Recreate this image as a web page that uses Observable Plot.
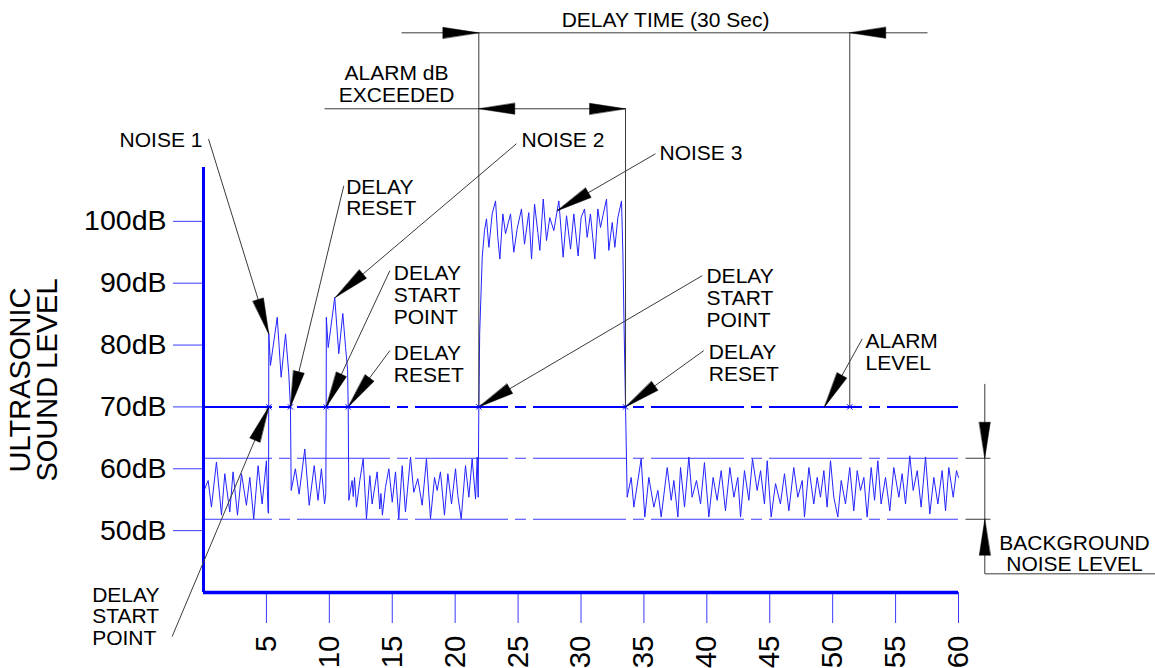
<!DOCTYPE html>
<html><head><meta charset="utf-8">
<script src="https://cdn.jsdelivr.net/npm/d3@7"></script>
<script src="https://cdn.jsdelivr.net/npm/@observablehq/plot@0.6"></script>
<style>html,body{margin:0;padding:0;background:#fff;overflow:hidden}</style>
</head><body><div id="chart"></div>
<script>
// ---------- data (time in seconds, level in dB) ----------
const xTicks = [5, 10, 15, 20, 25, 30, 35, 40, 45, 50, 55, 60];
const xTickLabels = ["5","10","15","20","25","30","35","40","45","50","55","60"];
const yTicks = [50, 60, 70, 80, 90, 100];
const yTickLabels = ["50dB","60dB","70dB","80dB","90dB","100dB"];
const yTitle = "ULTRASONIC\nSOUND LEVEL";

const alarmLevel = 70;
const backgroundBand = [61.7, 51.84];
const alarmPoints = [5.19, 6.91, 9.75, 11.50, 21.88, 33.54, 51.36];

const noiseA = [[0.05,56.5],[0.37,58.1],[0.63,53.8],[1.03,61.1],[1.43,52.5],[1.69,59.2],[2.09,53.0],[2.35,59.5],[2.70,52.5],[3.02,59.2],[3.41,54.1],[3.68,58.6],[3.99,51.9],[4.34,60.5],[4.66,54.3],[5.00,61.3],[5.13,53.0],[5.17,52.8]];
const noise1 = [[5.19,81.8],[5.32,76.7],[5.86,84.5],[6.17,74.8],[6.52,81.8],[6.78,75.3],[6.91,70.0],[6.97,56.5]];
const noiseB = [[7.30,60.0],[7.60,55.9],[8.05,63.2],[8.40,54.1],[8.80,60.5],[9.10,54.9],[9.37,60.0],[9.62,54.3],[9.72,56.0]];
const noise2 = [[9.75,70.0],[9.76,84.5],[9.91,79.6],[10.43,87.7],[10.75,78.6],[11.07,85.1],[11.29,79.6],[11.45,76.0],[11.50,70.0],[11.55,54.9]];
const noiseC = [[11.81,58.1],[11.90,55.5],[12.00,58.6],[12.16,53.8],[12.42,58.1],[12.69,61.6],[12.95,51.9],[13.22,58.9],[13.40,54.3],[13.80,59.5],[14.01,53.5],[14.10,56.0],[14.22,52.5],[14.46,57.0],[14.73,60.0],[15.00,54.6],[15.26,59.5],[15.52,51.9],[15.79,60.5],[16.05,53.0],[16.45,61.9],[16.71,56.2],[17.03,58.4],[17.38,54.1],[17.72,61.6],[18.04,51.9],[18.36,58.6],[18.57,56.5],[18.83,59.5],[19.15,52.5],[19.42,59.2],[19.71,54.3],[20.03,60.0],[20.21,55.7],[20.48,51.9],[20.82,60.5],[21.09,55.4],[21.35,61.6],[21.62,55.1],[21.75,61.9],[21.83,55.4]];
const noise3 = [[21.88,70.0],[21.95,82.0],[22.15,94.2],[22.33,98.5],[22.49,100.4],[22.68,95.8],[22.94,101.2],[23.21,103.3],[23.39,97.4],[23.55,93.9],[23.79,101.2],[24.00,98.0],[24.40,101.2],[24.66,95.0],[24.93,98.8],[25.27,102.0],[25.51,96.3],[25.85,101.4],[26.07,93.9],[26.31,102.8],[26.57,98.2],[26.73,95.3],[27.00,103.6],[27.26,96.9],[27.52,100.6],[27.84,98.5],[28.24,103.3],[28.58,94.2],[28.85,100.9],[29.17,95.5],[29.43,101.2],[29.77,94.4],[30.01,100.6],[30.28,102.0],[30.49,97.4],[30.75,101.2],[31.10,93.9],[31.34,102.0],[31.55,99.0],[31.74,100.9],[32.03,103.6],[32.21,95.3],[32.48,99.8],[32.69,95.8],[32.93,100.6],[33.22,103.3],[33.33,94.7],[33.41,84.5],[33.54,70.0]];
const noiseD = [[33.67,55.4],[33.99,58.6],[34.20,53.8],[34.78,61.6],[35.07,52.2],[35.39,58.6],[35.79,53.8],[36.11,56.5],[36.37,52.2],[36.85,60.2],[37.17,54.9],[37.38,58.1],[37.70,52.2],[37.91,60.2],[38.23,53.8],[38.57,61.9],[38.83,55.4],[39.18,58.1],[39.50,54.3],[39.81,61.0],[40.16,52.2],[40.50,58.6],[40.82,54.9],[41.14,59.7],[41.48,53.2],[41.83,60.2],[42.15,55.4],[42.46,58.6],[42.68,52.2],[42.99,59.7],[43.34,54.9],[43.63,61.6],[44.00,56.5],[44.27,59.7],[44.58,54.3],[44.80,61.3],[45.11,52.2],[45.46,57.6],[45.85,54.3],[46.17,59.2],[46.52,53.2],[46.91,60.2],[47.23,55.4],[47.58,58.1],[47.76,52.2],[48.11,60.2],[48.50,54.3],[48.77,58.6],[49.03,55.4],[49.30,59.7],[49.56,53.8],[49.83,61.3],[50.09,55.4],[50.41,52.2],[50.68,58.1],[51.02,54.3],[51.36,60.2],[51.68,53.2],[51.95,59.7],[52.21,56.5],[52.48,58.6],[52.74,52.2],[53.06,60.2],[53.33,54.9],[53.59,61.3],[53.85,54.3],[54.20,58.6],[54.54,53.2],[54.86,60.2],[55.26,55.4],[55.52,59.2],[55.79,54.3],[56.13,62.1],[56.40,56.5],[56.72,59.7],[57.03,53.8],[57.38,61.9],[57.72,52.7],[58.04,58.6],[58.36,54.3],[58.70,59.7],[58.97,53.2],[59.23,60.2],[59.58,55.4],[59.84,59.7],[60.00,58.6]];
const signal = [...noiseA, ...noise1, ...noiseB, ...noise2, ...noiseC, ...noise3, ...noiseD];

// leader lines: [from t, from dB, tip t, tip dB]
const leaders = [
  [0.40, 113.3, 5.19, 81.8],
  [11.15, 105.75, 6.91, 70],
  [24.87, 112.54, 10.49, 87.71],
  [14.81, 92.02, 9.75, 70],
  [14.81, 79.10, 11.50, 70],
  [-2.49, 32.89, 5.19, 70],
  [35.92, 110.92, 28.11, 101.71],
  [39.63, 91.21, 21.88, 70],
  [39.76, 79.10, 33.54, 70],
  [52.35, 80.99, 49.35, 70]
];
// dimension / extension lines
const dimLines = [
  [15.74, 130.47, 57.54, 130.47],
  [21.88, 130.47, 21.88, 70],
  [51.36, 130.47, 51.36, 70],
  [9.62, 118.19, 33.54, 118.19],
  [33.54, 118.19, 33.54, 70],
  [62.09, 73.72, 62.09, 43.02],
  [62.09, 43.02, 75.7, 43.02],
  [60.56, 61.70, 62.54, 61.70],
  [60.56, 51.84, 62.54, 51.84]
];
const dimArrows = [
  [15.0, 130.47, 21.88, 130.47],
  [58.0, 130.47, 51.36, 130.47],
  [30.0, 118.19, 21.88, 118.19],
  [10.0, 118.19, 33.54, 118.19],
  [62.09, 75, 62.09, 61.70],
  [62.09, 40, 62.09, 51.84]
];
// labels: [text, t, dB]
const labelsStart = [
  ["DELAY\nRESET", 11.34, 103.86],
  ["NOISE 2", 25.27, 113.18],
  ["DELAY\nSTART\nPOINT", 15.12, 88.11],
  ["DELAY\nRESET", 15.12, 76.95],
  ["NOISE 3", 36.24, 111.08],
  ["DELAY\nSTART\nPOINT", 39.97, 87.59],
  ["DELAY\nRESET", 40.16, 77.08],
  ["ALARM\nLEVEL", 52.61, 78.82],
  ["DELAY\nSTART\nPOINT", -8.85, 36.16]
];
const labelsEnd = [["NOISE 1", -0.08, 113.07]];
const labelsMiddle = [
  ["BACKGROUND\nNOISE LEVEL", 69.22, 46.32],
  ["DELAY TIME (30 Sec)", 36.72, 132.57],
  ["ALARM dB\nEXCEEDED", 15.34, 122.2]
];

// ---------- layout ----------
const W = 1155, H = 668, ML = 203, MR = 197, MT = 167, MB = 76;
const xDomain = [0, 60], yDomain = [40, 108.7];
const kx = (W - ML - MR) / (xDomain[1] - xDomain[0]);
const ky = (H - MT - MB) / (yDomain[1] - yDomain[0]);
const angle = (a) => Math.atan2((a[2] - a[0]) * kx, (a[3] - a[1]) * ky) * 180 / Math.PI;
const arrowHead = {draw(ctx, l) { const w = 5.5; ctx.moveTo(0, -l); ctx.lineTo(-w, 0); ctx.lineTo(w, 0); ctx.closePath(); }};
const BLUE = "#0000ff", THIN = "#3a3aff", INK = "#3a3a3a";
const font = "'Liberation Sans', Arial, Helvetica, sans-serif";
const dash = "93,7,11,7";

const txt = (arr, anchor) => Plot.text(arr, {x: d => d[1], y: d => d[2], text: d => d[0], textAnchor: anchor, lineAnchor: "middle", lineHeight: 1.033, fontSize: 21, fill: "black"});

const chart = Plot.plot({
  width: W, height: H,
  marginLeft: ML, marginRight: MR, marginTop: MT, marginBottom: MB,
  style: {fontFamily: font, background: "white", color: "black"},
  x: {domain: xDomain},
  y: {domain: yDomain},
  marks: [
    Plot.ruleY(backgroundBand, {stroke: THIN, strokeWidth: 1, strokeDasharray: dash, strokeDashoffset: 24}),
    Plot.ruleY([alarmLevel], {stroke: BLUE, strokeWidth: 2, strokeDasharray: dash, strokeDashoffset: 24}),
    Plot.line(signal, {x: d => d[0], y: d => d[1], stroke: "#2323ff", strokeWidth: 1}),
    Plot.axisY({ticks: yTicks, tickSize: 30, tickPadding: 7, tickFormat: d => yTickLabels[yTicks.indexOf(d)], fontSize: 28.5, stroke: THIN, label: null}),
    Plot.axisX({ticks: xTicks, tickSize: 31, tickFormat: () => "", stroke: THIN, label: null}),
    Plot.text(xTicks, {x: d => d, text: (d, i) => xTickLabels[i], frameAnchor: "bottom", dy: 43, rotate: -90, textAnchor: "end", lineAnchor: "middle", fontSize: 29.5, fill: "black"}),
    Plot.ruleX([xDomain[0]], {stroke: BLUE, strokeWidth: 3}),
    Plot.ruleY([yDomain[0]], {stroke: BLUE, strokeWidth: 3.5}),
    Plot.text([yTitle], {frameAnchor: "left", dx: -169, rotate: -90, textAnchor: "middle", lineAnchor: "middle", lineHeight: 0.93, fontSize: 29, fill: "black"}),
    Plot.link(dimLines, {x1: d => d[0], y1: d => d[1], x2: d => d[2], y2: d => d[3], stroke: INK, strokeWidth: 1}),
    Plot.link(leaders, {x1: d => d[0], y1: d => d[1], x2: d => d[2], y2: d => d[3], stroke: INK, strokeWidth: 1}),
    Plot.vector([...leaders, ...dimArrows], {x: d => d[2], y: d => d[3], rotate: d => angle(d), length: 36, shape: arrowHead, anchor: "end", fill: "black", stroke: "black", strokeWidth: 0.5}),
    Plot.dot(alarmPoints, {x: d => d, y: alarmLevel, symbol: "times", r: 2.5, stroke: BLUE, strokeWidth: 1}),
    txt(labelsStart, "start"),
    txt(labelsEnd, "end"),
    txt(labelsMiddle, "middle")
  ]
});
document.getElementById("chart").appendChild(chart);
</script></body></html>
